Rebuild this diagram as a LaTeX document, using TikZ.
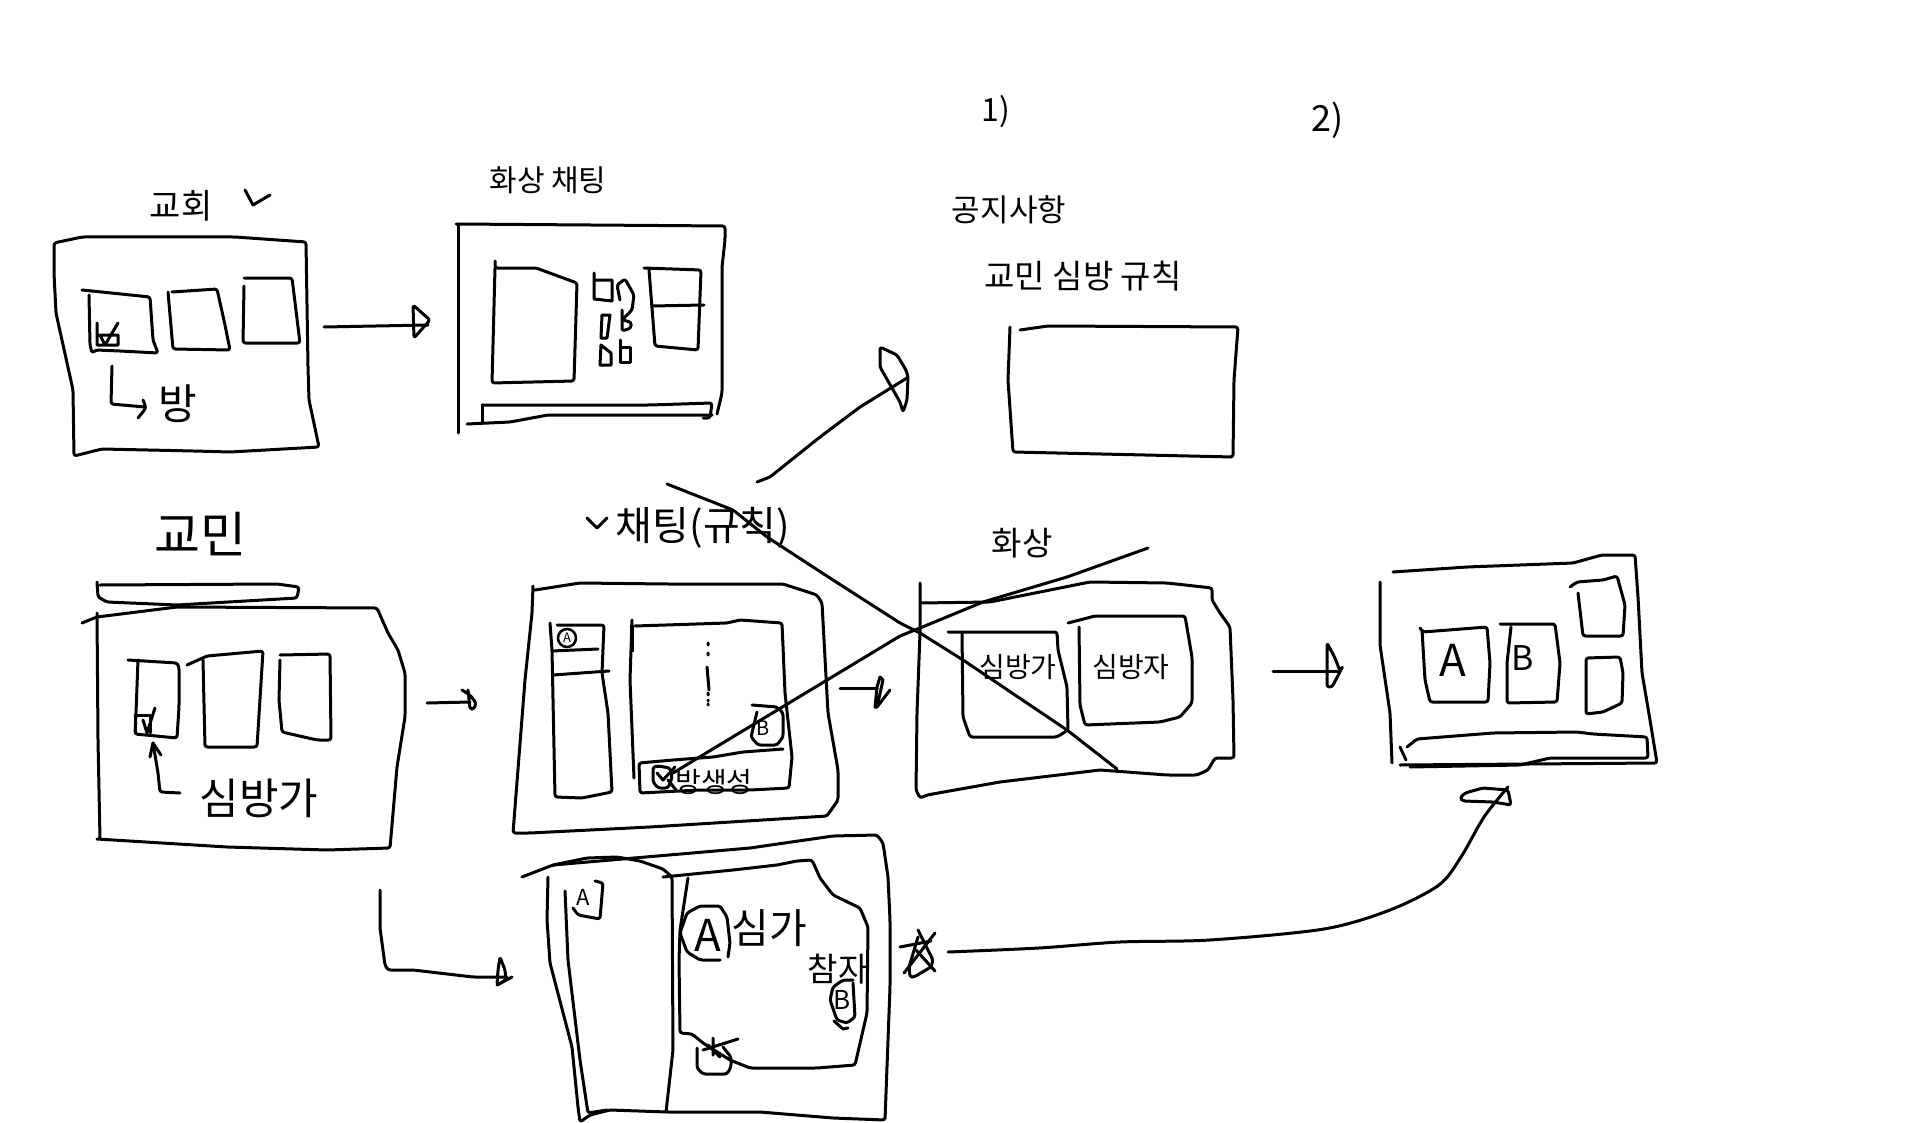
\documentclass[tikz,border=0pt]{standalone}
\usepackage{fontspec}
\setmainfont{Noto Sans CJK KR}
\newcommand{\hs}[1]{\fontsize{#1}{#1}\selectfont}
\tikzset{
  ink/.style={line width=3pt,line cap=round,line join=round,rounded corners=2.5pt},
  sharp/.style={line width=3pt,line cap=round,line join=round},
  lab/.style={inner sep=0pt,text=black}
}
\begin{document}
\begin{tikzpicture}[x=1pt,y=-1pt]
\useasboundingbox (0,0) rectangle (1910,1123);
\fill[white] (0,0) rectangle (1910,1123);
% top left frame
\draw[ink] (54,243)--(82,237)--(235,237)--(306,242)--(308,367)--(309,400)--(319,447)--(230,452)--(194,451)--(102,449)--(74,456)--(73,390)--(56,313)--(54,273)--cycle;
\draw[ink] (82,290)--(150,297)--(153,340)--(158,353)--(120,351)--(96,350)--(92,353)--(90,345)--(89,295);
\draw[sharp] (97,323)--(97,345)--(118,345)--(118,335)--(100,335)--(105,345)--(118,323);
\draw[ink] (172,292)--(217,289)--(225,325)--(230,350)--(173,349)--(168,292);
\draw[ink] (244,278)--(292,278)--(300,343)--(243,343)--(244,286);
\draw[ink] (112,366)--(111,404)--(145,407);
\draw[ink] (138,418)--(146,408)--(143,400);
\node[lab,font=\hs{42}] (bang) at (178,404) {방};
\node[lab,font=\hs{34}] (gyohoe) at (181,206) {교회};
\draw[sharp] (245,190)--(253,205)--(270,195);
% chat frame top
\node[lab,font=\hs{30}] (hwasangchat) at (548,180) {화상 채팅};
\draw[ink] (456,224)--(725,226)--(725,240)--(722,267)--(722,393)--(717,414);
\draw[ink] (458,225)--(458,433);
\draw[ink] (495,261)--(495,268)--(536,268)--(577,283)--(574,381)--(492,383)--(495,268);
\draw[ink] (482,405)--(650,405)--(712,403)--(710,418)--(703,418);
\draw[ink] (712,415)--(548,415)--(510,422)--(467,424);
\draw[sharp] (482,405)--(482,423);
\draw[sharp] (594,273)--(594,299)--(612,301)--(612,280)--(594,280);
\draw[ink] (620,300)--(617,285)--(625,279)--(634,295)--(632,310)--(622,320)--(631,322)--(631,328)--(622,331)--(622,310);
\draw[sharp] (602,315)--(610,315)--(607,338)--(601,338)--cycle;
\draw[sharp] (601,345)--(611,353)--(611,365)--(600,365)--cycle;
\draw[sharp] (620,340)--(620,362)--(630,362)--(630,347)--(620,347);
\draw[ink] (644,268)--(701,270)--(698,350)--(655,346)--(649,270);
\draw[sharp] (652,306)--(704,305);
% arrow 1
\draw[sharp] (324,327)--(428,325);
\draw[ink] (413,305)--(430,320)--(414,338)--cycle;
% labels 1) 2)
\node[lab,font=\hs{32}] (one) at (996,112) {1)};
\node[lab,font=\hs{36}] (two) at (1328,120) {2)};
\node[lab,font=\hs{31}] (notice) at (1009,210) {공지사항};
\node[lab,font=\hs{33}] (rule) at (1083,276) {교민 심방 규칙};
\draw[ink] (1010,327)--(1008,380)--(1013,452)--(1233,457)--(1234,380)--(1238,327)--(1048,326)--(1020,330);
% arrow up-right
\draw[ink] (757,482)--(770,477)--(820,437)--(860,407)--(907,378);
\draw[ink] (880,347)--(880,367)--(892,388)--(900,402)--(903,412)--(907,400)--(908,377)--(906,370)--(897,355)--cycle;
% chat frame
\node[lab,font=\hs{40}] (chatlab) at (703,528) {채팅(규칙)};
\draw[sharp] (587,518)--(597,528)--(607,518);
\draw[ink] (533,586)--(532,613)--(525,680)--(513,833)--(530,833)--(650,827)--(827,816)--(838,800)--(838,770)--(828,713)--(822,603)--(817,595)--(783,584)--(667,584)--(580,583)--(535,590);
\draw[ink] (550,623)--(552,650)--(555,797)--(582,798)--(612,792)--(608,713)--(602,673)--(604,625)--(557,625);
\draw[sharp] (552,651)--(598,649);
\draw[sharp] (553,675)--(609,671);
\draw[line width=2.5pt] (567,638) circle (9);
\node[lab,font=\hs{13}] (a1) at (567,638) {A};
\draw[ink] (632,620)--(630,680)--(634,778);
\draw[line width=4pt] (632,625)--(632,652);
\draw[ink] (635,626)--(727,623)--(740,620)--(782,623)--(785,693)--(792,757)--(789,788)--(750,790)--(700,790)--(640,793)--(639,763)--(673,760)--(713,757)--(743,752)--(783,749);
\draw[sharp] (708,643)--(708,645) (708,653)--(708,655) (707,667)--(709,690) (708,693)--(708,695) (708,700)--(708,701) (708,704)--(708,705);
\draw[ink] (752,705)--(777,707)--(783,713)--(783,737)--(777,745)--(758,745)--(751,737)--(757,712);
\node[lab,font=\hs{20}] (b1) at (763,728) {B};
\draw[ink] (653,767)--(653,782)--(658,788)--(668,788)--(672,778)--(670,768)--(658,766)--cycle;
\draw[sharp] (657,773)--(663,780)--(675,767);
\draw[sharp] (668,780)--(676,790);
\node[lab,font=\hs{28}] (bangsaeng) at (714,782) {방생성};
% crossing lines
\draw[ink] (667,484)--(733,510)--(767,537)--(833,580)--(900,623)--(920,633)--(963,660)--(1067,730)--(1117,769);
\draw[ink] (673,773)--(900,636)--(920,628)--(983,602)--(1067,577)--(1148,548);
% arrow 3
\draw[sharp] (840,688)--(877,688);
\draw[sharp] (880,677)--(883,680)--(877,707)--(875,707)--(877,687)--cycle;
\draw[sharp] (877,707)--(890,690);
% hwasang frame
\node[lab,font=\hs{33}] (hwasang) at (1022,543) {화상};
\draw[ink] (920,583)--(920,633)--(917,713)--(916,790)--(920,798)--(927,795)--(1000,782)--(1100,770)--(1167,775)--(1197,775)--(1208,770)--(1215,758)--(1234,758)--(1233,700)--(1230,627)--(1220,613)--(1212,600)--(1212,588)--(1167,583)--(1090,582)--(1050,590)--(990,602)--(920,603);
\draw[ink] (948,632)--(1057,632)--(1058,650)--(1067,687)--(1068,730)--(1057,737)--(970,737)--(963,717)--(962,633);
\draw[ink] (1068,623)--(1095,616)--(1185,616)--(1192,657)--(1192,703)--(1180,717)--(1160,722)--(1085,725)--(1080,705)--(1079,627);
\node[lab,font=\hs{28}] (simbangga2) at (1018,667) {심방가};
\node[lab,font=\hs{28}] (simbangja) at (1131,667) {심방자};
% arrow 4
\draw[sharp] (1273,671)--(1338,671);
\draw[ink] (1327,643)--(1335,658)--(1340,671)--(1343,666)--(1332,687)--(1327,687)--cycle;
% right frame
\draw[ink] (1393,572)--(1467,567)--(1573,563)--(1602,555)--(1635,555)--(1638,597)--(1642,673)--(1650,720)--(1657,763)--(1400,765);
\draw[ink] (1380,582)--(1380,645)--(1390,713)--(1392,763);
\draw[ink] (1420,628)--(1423,632)--(1487,627)--(1490,663)--(1488,702)--(1430,702)--(1425,680)--(1422,630);
\node[lab,font=\hs{44}] (a3) at (1453,660) {A};
\draw[ink] (1500,624)--(1555,624)--(1560,663)--(1557,702)--(1507,703)--(1507,663)--(1511,627);
\node[lab,font=\hs{34}] (b3) at (1523,658) {B};
\draw[ink] (1570,587)--(1577,582)--(1603,580)--(1617,576)--(1625,605)--(1623,636)--(1583,636)--(1578,593);
\draw[ink] (1586,658)--(1620,657)--(1623,673)--(1622,703)--(1603,712)--(1586,714)--cycle;
\draw[sharp] (1400,747)--(1406,760);
\draw[ink] (1407,747)--(1417,739)--(1493,733)--(1577,732)--(1593,734)--(1647,737)--(1648,758)--(1603,758)--(1550,758)--(1520,765)--(1410,767);
% long curve
\draw[sharp] plot[smooth] coordinates {(948,952)(1039,948)(1120,942)(1210,940)(1324,929)(1390,910)(1439,885)(1461,857)(1484,817)(1508,787)};
\draw[ink] (1460,798)--(1465,793)--(1483,788)--(1508,790)--(1511,805)--(1493,802)--(1463,801)--cycle;
\draw[sharp] (900,947)--(931,941);
\draw[ink] (918,930)--(933,960)--(931,967)--(914,977)--(910,977)--(909,967)--(918,937);
\draw[sharp] (904,973)--(935,933);
\draw[sharp] (916,950)--(935,971);
% gyomin frame
\node[lab,font=\hs{50}] (gyomin) at (200,534) {교민};
\draw[ink] (97,582)--(98,597)--(107,602)--(177,605)--(297,598)--(299,587)--(277,584)--(100,585);
\draw[ink] (82,623)--(97,617)--(177,607)--(377,608)--(388,633)--(398,650)--(405,673)--(405,717)--(397,767)--(390,848)--(327,850)--(227,847)--(97,839);
\draw[ink] (97,613)--(98,740)--(100,839);
\draw[ink] (128,660)--(177,663)--(179,667)--(179,707)--(177,738)--(135,734)--(136,713)--(138,660);
\draw[sharp] (135,715)--(135,733) (135,715)--(150,715)--(150,733);
\draw[sharp] (143,720)--(147,733)--(155,708);
\draw[ink] (187,665)--(207,656)--(263,651)--(257,747)--(205,747)--(203,660);
\draw[ink] (280,655)--(330,654)--(331,740)--(317,740)--(282,732)--(279,700)--(280,660);
\draw[ink] (180,793)--(160,792)--(158,773)--(153,743);
\draw[sharp] (150,757)--(153,743)--(161,755);
\node[lab,font=\hs{43}] (simbangga) at (259,798) {심방가};
% arrow 2
\draw[sharp] (427,703)--(470,702);
\draw[ink] (462,690)--(470,695)--(476,703)--(474,709)--(470,709)--(468,690);
% L arrow
\draw[ink] (380,890)--(380,928)--(385,965)--(388,970)--(413,970)--(473,977)--(507,977);
\draw[ink] (500,957)--(505,970)--(506,980)--(497,985)--(498,970)--cycle;
\draw[sharp] (497,985)--(512,977);
% bottom frame
\draw[ink] (522,877)--(553,865)--(750,848)--(833,836)--(877,835)--(883,843)--(888,877)--(890,920)--(890,987)--(885,1120)--(833,1118)--(760,1112)--(667,1112)--(610,1110)--(590,1115)--(580,1122)--(578,1107)--(572,1047)--(550,963)--(547,920)--(548,877);
\draw[ink] (553,865)--(587,858)--(617,857)--(640,861)--(663,869)--(672,877)--(673,1050)--(666,1112);
\draw[ink] (565,891)--(568,960)--(580,1060)--(588,1113)--(607,1110);
\draw[ink] (573,908)--(578,915)--(600,919)--(603,883)--(595,881);
\node[lab,font=\hs{22}] (a2) at (583,897) {A};
\draw[ink] (663,877)--(733,870)--(777,865)--(797,861)--(812,860)--(820,878)--(833,895)--(860,908)--(868,927)--(867,1013)--(855,1065)--(817,1068)--(750,1068)--(730,1060)--(703,1043)--(692,1034)--(680,1033)--(679,960)--(680,930)--(688,878);
\draw[ink] (720,960)--(700,960)--(687,952)--(680,933)--(687,913)--(700,906)--(720,906)--(727,917)--(730,943)--(728,957);
\node[lab,font=\hs{44}] (a4) at (708,935) {A};
\node[lab,font=\hs{41}] (simga) at (769,928) {심가};
\node[lab,font=\hs{33}] (chamja) at (838,969) {참자};
\draw[ink] (853,983)--(855,1017)--(847,1023)--(837,1020)--(830,1000)--(833,987)--(843,980)--(853,980);
\draw[sharp] (834,1021)--(843,1029)--(848,1028);
\node[lab,font=\hs{26}] (b2) at (842,1000) {B};
\draw[ink] (697,1048)--(697,1068)--(703,1074)--(727,1074)--(731,1067)--(731,1057)--(723,1047);
\draw[sharp] (713,1038)--(713,1055) (703,1050)--(738,1039) (708,1045)--(720,1057);
\end{tikzpicture}
\end{document}
